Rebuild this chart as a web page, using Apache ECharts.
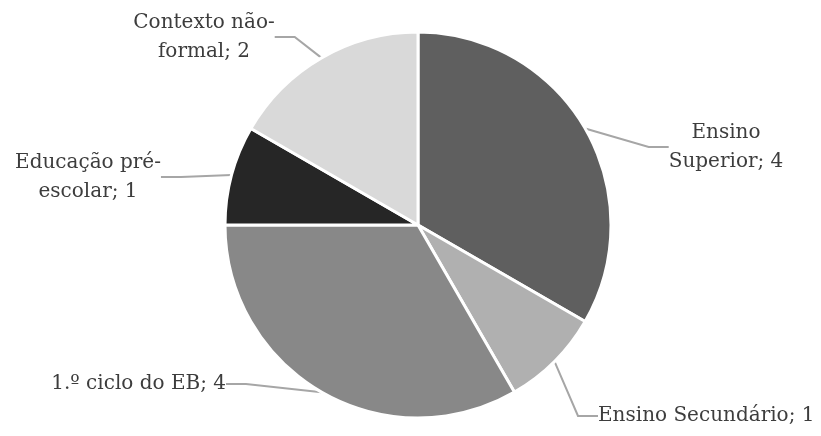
<!DOCTYPE html>
<html><head><meta charset="utf-8">
<script src="https://cdn.jsdelivr.net/npm/echarts@6/dist/echarts.min.js"></script>
<style>html,body{margin:0;padding:0;background:#fff}#c{width:821px;height:436px}</style>
</head><body><div id="c"></div>
<script>
const categories = ['Ensino Superior', 'Ensino Secundário', '1.º ciclo do EB', 'Educação pré-escolar', 'Contexto não-formal'];
const values = [4, 1, 4, 1, 2];
const labelTexts = ['Ensino\nSuperior; 4', 'Ensino Secundário; 1', '1.º ciclo do EB; 4', 'Educação pré-\nescolar; 1', 'Contexto não-\nformal; 2'];
const colors = ['#5f5f5f', '#b0b0b0', '#888888', '#262626', '#d9d9d9'];
const labelSpots = [
  {x: 726, y: 147, align: 'center'},
  {x: 598, y: 416, align: 'left'},
  {x: 226, y: 384, align: 'right'},
  {x: 88, y: 177, align: 'center'},
  {x: 204, y: 37, align: 'center'}
];
const chart = echarts.init(document.getElementById('c'), null, {renderer: 'canvas'});
chart.setOption({
  animation: false,
  backgroundColor: '#fff',
  series: [{
    type: 'pie',
    center: [418, 225],
    radius: 193,
    startAngle: 90,
    clockwise: true,
    data: categories.map((c, i) => ({name: c, value: values[i], itemStyle: {color: colors[i]}, label: {formatter: labelTexts[i]}})),
    itemStyle: {borderColor: '#fff', borderWidth: 3},
    label: {show: true, position: 'outside', color: '#3d3d3d', fontFamily: 'DejaVu Serif', fontSize: 20, lineHeight: 29},
    labelLine: {show: true, lineStyle: {color: '#a6a6a6', width: 2}, length: 20, length2: 20},
    labelLayout: function (p) {
      const s = labelSpots[p.dataIndex];
      return {x: s.x, y: s.y, align: s.align, verticalAlign: 'middle'};
    }
  }]
});
</script></body></html>
